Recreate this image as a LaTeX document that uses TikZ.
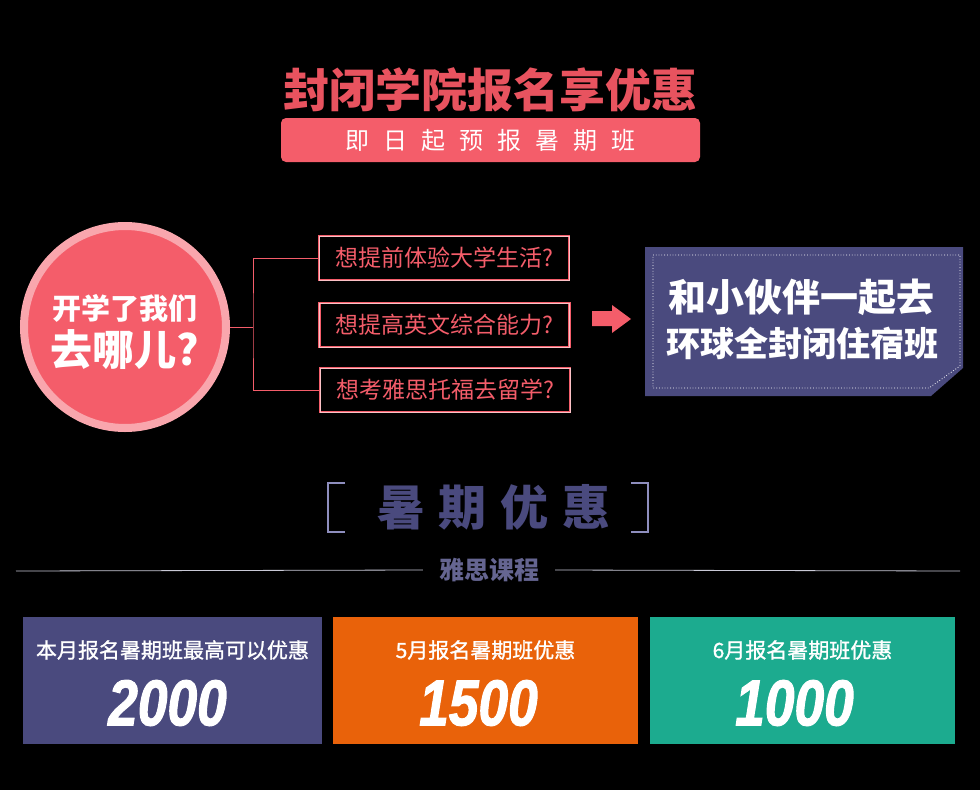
\documentclass[tikz,border=0pt]{standalone}
\usepackage{fontspec}
\setmainfont{Noto Sans CJK SC}
\newfontfamily\numfont{Liberation Sans}[FakeStretch=0.82, FakeBold=1.5]
\definecolor{rose}{HTML}{F45D6A}
\definecolor{roseDark}{HTML}{E8535F}
\definecolor{roseLight}{HTML}{F9A6AD}
\definecolor{navy}{HTML}{4A4A7E}
\definecolor{lilac}{HTML}{8E8EBE}
\definecolor{rulegray}{HTML}{C9C9D6}
\definecolor{orangeBox}{HTML}{E9620A}
\definecolor{tealBox}{HTML}{1CAB8F}

\tikzset{
  headline/.style={text=roseDark, font=\bfseries\fontsize{46}{46}\selectfont, inner sep=0},
  banner/.style={fill=rose, rounded corners=5pt, minimum width=419, minimum height=44, inner sep=0,
    text=white, font=\fontsize{24}{24}\selectfont\addfontfeature{LetterSpace=58}},
  bubble/.style={circle, fill=rose, draw=roseLight, line width=8pt, minimum size=202, inner sep=0},
  question/.style={draw=rose, double=roseLight!70!white, double distance=0.9pt, line width=0.9pt,
    minimum width=250, minimum height=44, inner sep=0, text=rose, font=\fontsize{23}{23}\selectfont},
  link/.style={rose, line width=1pt},
  stitch/.style={white, dotted, line width=0.8pt},
  bracket/.style={lilac, line width=2.5pt},
  rule/.style={rulegray, line width=0.8pt},
  offer/.style={minimum width=300, minimum height=127, inner sep=0},
  offerlabel/.style={text=white, font=\fontsize{21}{21}\selectfont\addfontfeature{FakeBold=1.2}},
  amount/.style={text=white, font=\numfont\bfseries\itshape\fontsize{65}{65}\selectfont}
}

\begin{document}
\begin{tikzpicture}[x=1pt,y=-1pt]
\fill[black] (0,0) rectangle (980,790);
\useasboundingbox (0,0) rectangle (980,790);

% heading
\node[headline] (title) at (490,90) {封闭学院报名享优惠};
\node[banner] (banner) at (490.5,140) {即日起预报暑期班};

% where to go
\node[bubble] (where) at (125,327) {};
\node[text=white, font=\bfseries\fontsize{29}{29}\selectfont] (whereA) at ([yshift=19pt]where.center) {开学了我们};
\node[text=white, font=\bfseries\fontsize{42}{42}\selectfont] (whereB) at ([yshift=-23pt]where.center) {去哪儿?};

\node[question] (q1) at (444,258) {想提前体验大学生活?};
\node[question] (q2) at (444.5,325) {想提高英文综合能力?};
\node[question] (q3) at (445,390) {想考雅思托福去留学?};

\coordinate (fork) at (253,327);
\draw[link] (where.east) -- (fork);
\draw[link] (q1.west) -| (fork) |- (q3.west);

\fill[rose] (592,311) -- (612,311) -- (612,305) -- (631,319) -- (612,333) -- (612,326) -- (592,326) -- cycle;

% answer
\fill[navy] (645,247) -- (963,247) -- (963,368) -- (931,396) -- (645,396) -- cycle;
\draw[stitch] (653,255) -- (960,255) -- (960,366) -- (929,388) -- (653,388) -- cycle;
\node[text=white, font=\bfseries\fontsize{38}{38}\selectfont] (goalA) at (801,297) {和小伙伴一起去};
\node[text=white, font=\bfseries\fontsize{34}{34}\selectfont] (goalB) at (802,343) {环球全封闭住宿班};

% summer offer
\node[text=navy, font=\bfseries\fontsize{48}{48}\selectfont\addfontfeature{LetterSpace=29}] (summer) at (494,507) {暑期优惠};
\draw[bracket] (345,483) -- (328,483) -- (328,532) -- (345,532);
\draw[bracket] (631,483) -- (648,483) -- (648,532) -- (631,532);

\node[text=navy!85!white, font=\bfseries\fontsize{25}{25}\selectfont, inner xsep=16pt] (course) at (489,570) {雅思课程};
\draw[rule] (16,571) -- (course.west);
\draw[rule] (course.east) -- (960,571);

\node[offer, fill=navy, minimum width=299] (offerA) at (172.5,680.5) {};
\node[offer, fill=orangeBox, minimum width=305] (offerB) at (485.5,680.5) {};
\node[offer, fill=tealBox, minimum width=305] (offerC) at (802.5,680.5) {};

\node[offerlabel] (labelA) at ([yshift=30.5pt]offerA.center) {本月报名暑期班最高可以优惠};
\node[offerlabel] (labelB) at ([yshift=30.5pt]offerB.center) {5月报名暑期班优惠};
\node[offerlabel] (labelC) at ([yshift=30.5pt]offerC.center) {6月报名暑期班优惠};

\node[amount] (sumA) at ([xshift=-5pt,yshift=-22.5pt]offerA.center) {2000};
\node[amount] (sumB) at ([xshift=-7pt,yshift=-22.5pt]offerB.center) {1500};
\node[amount] (sumC) at ([xshift=-8pt,yshift=-22.5pt]offerC.center) {1000};
\end{tikzpicture}
\end{document}
